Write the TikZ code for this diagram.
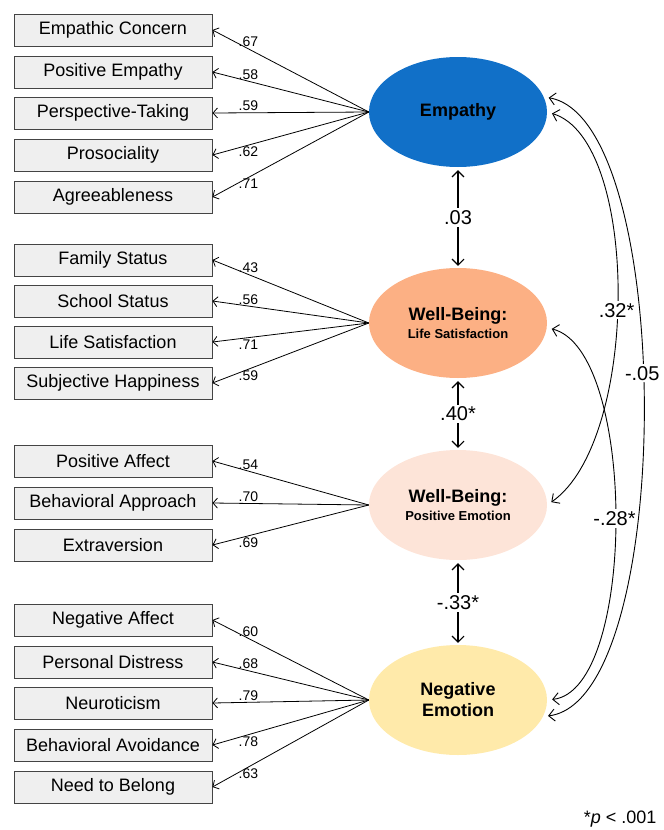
\documentclass[tikz,border=0pt]{standalone}
\usepackage{fontspec}
\setmainfont{Liberation Sans}
\usepackage{xcolor}
\definecolor{EmpBlue}{HTML}{1170C8}
\definecolor{LsPeach}{HTML}{FCB084}
\definecolor{PePeach}{HTML}{FDE4D8}
\definecolor{NegYellow}{HTML}{FFEAAA}
\definecolor{BoxGray}{HTML}{EFEFEF}
\definecolor{LineGray}{HTML}{444444}
\usepackage{tikz}
\usetikzlibrary{positioning,calc,shapes.geometric,arrows.meta}

\tikzset{
  obsbox/.style={draw=LineGray, fill=BoxGray, line width=0.9pt, minimum width=198pt,
    minimum height=32pt, inner sep=0pt, font=\fontsize{18}{20}\selectfont},
  latent/.style={ellipse, minimum width=178pt, minimum height=110pt, inner sep=0pt,
    align=center, font=\fontsize{18}{21}\selectfont\bfseries},
  load/.style={-{Straight Barb[length=4.5pt,width=10pt]}, line width=0.8pt},
  loadlbl/.style={font=\fontsize{14}{16}\selectfont, pos=0.77, inner sep=1.5pt},
  covarr/.style={{Straight Barb[length=6pt,width=12pt]}-{Straight Barb[length=6pt,width=12pt]},
    line width=1.1pt},
  covcurve/.style={{Straight Barb[length=6pt,width=12pt]}-{Straight Barb[length=6pt,width=12pt]},
    line width=0.9pt, shorten <=5pt, shorten >=5pt},
  covlbl/.style={font=\fontsize{20}{22}\selectfont, fill=white, inner sep=2pt},
}

\begin{document}
\begin{tikzpicture}[x=1pt, y=-1pt]
  \useasboundingbox (0,0) rectangle (664,830);

  % latent factors
  \node[latent, fill=EmpBlue] (emp) at (458,112) {Empathy};
  \node[latent, fill=LsPeach] (wbls) at (458,323)
    {Well-Being:\\[-3pt]{\fontsize{13}{15}\selectfont Life Satisfaction}};
  \node[latent, fill=PePeach] (wbpe) at (458,505)
    {Well-Being:\\[-3pt]{\fontsize{13}{15}\selectfont Positive Emotion}};
  \node[latent, fill=NegYellow] (ne) at (458,700) {Negative\\Emotion};

  % indicators
  \foreach \nm/\txt/\yy in {ec/Empathic Concern/30, pemp/Positive Empathy/72,
      ptak/Perspective-Taking/113, pros/Prosociality/155, agr/Agreeableness/197,
      fam/Family Status/260, sch/School Status/301, lsat/Life Satisfaction/342,
      shap/Subjective Happiness/383,
      paff/Positive Affect/461, bapp/Behavioral Approach/503, extr/Extraversion/545,
      naff/Negative Affect/620, pdis/Personal Distress/662, neur/Neuroticism/703,
      bavo/Behavioral Avoidance/745, ntb/Need to Belong/787}
    \node[obsbox] (\nm) at (113,\yy) {\txt};

  % loadings
  \foreach \lat/\nm/\ld/\anc in {emp/ec/.67/south, emp/pemp/.58/south, emp/ptak/.59/south,
      emp/pros/.62/north, emp/agr/.71/north,
      wbls/fam/.43/south, wbls/sch/.56/south, wbls/lsat/.71/north, wbls/shap/.59/north,
      wbpe/paff/.54/south, wbpe/bapp/.70/south, wbpe/extr/.69/north,
      ne/naff/.60/south, ne/pdis/.68/south, ne/neur/.79/south, ne/bavo/.78/north,
      ne/ntb/.63/north}
    \draw[load] (\lat.west) -- node[loadlbl, anchor=\anc] {\ld} (\nm.east);

  % correlations between neighbours
  \draw[covarr, shorten <=3pt, shorten >=2pt] (emp) -- node[covlbl] {.03} (wbls);
  \draw[covarr, shorten <=3pt, shorten >=2pt] (wbls) -- node[covlbl] {.40*} (wbpe);
  \draw[covarr, shorten <=3pt, shorten >=2pt] (wbpe) -- node[covlbl] {-.33*} (ne);

  % correlations on the right
  \draw[covcurve] (emp.east) .. controls (640,140) and (640,440) ..
    node[covlbl, pos=0.53] {.32*} (wbpe.east);
  \draw[covcurve] (wbls.-3) .. controls (637,350) and (637,690) ..
    node[covlbl, pos=0.5] {-.28*} (ne.east);
  \draw[covcurve] (emp.10) .. controls (676,120) and (676,700) ..
    node[covlbl, pos=0.46] {-.05} (ne.-11);

  \node[font=\fontsize{18}{20}\selectfont, anchor=east] (note) at (660,819)
    {*\textit{p} < .001};
\end{tikzpicture}
\end{document}
